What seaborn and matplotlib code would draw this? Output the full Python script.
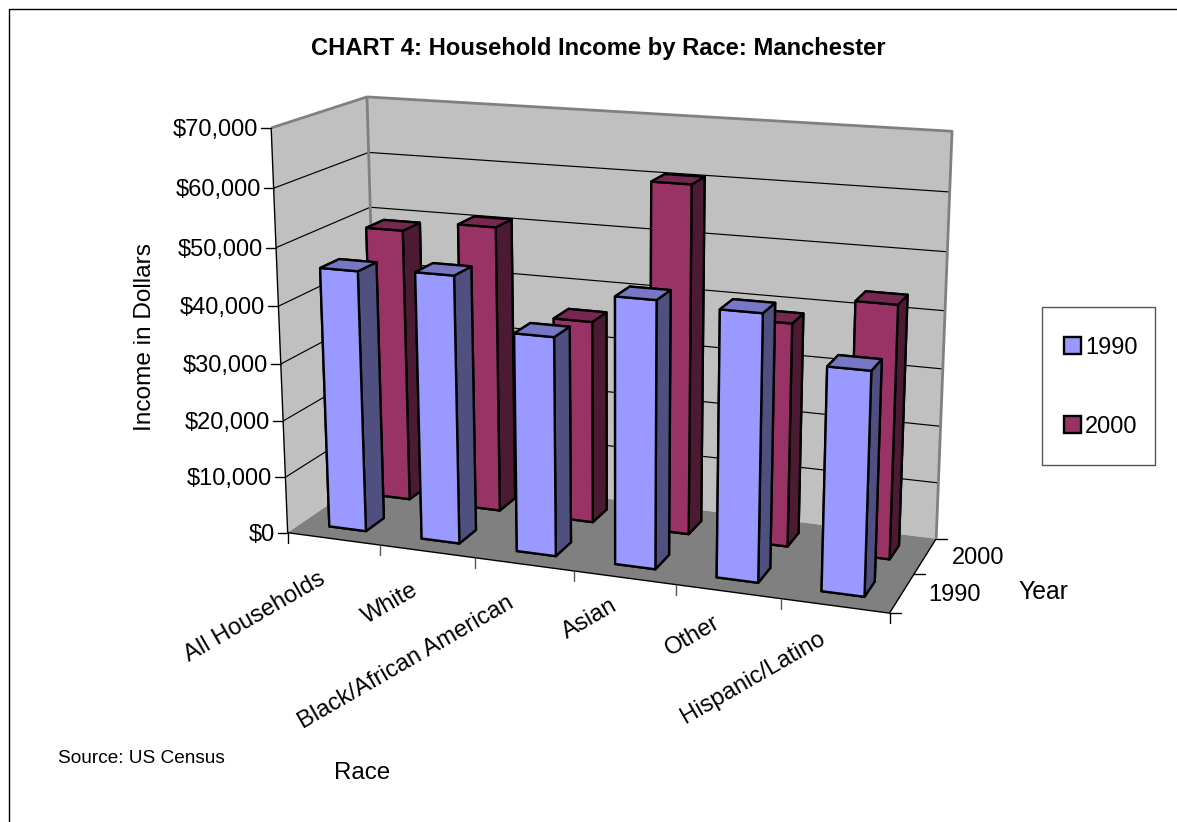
import numpy as np
import pandas as pd
import seaborn as sns
import matplotlib
matplotlib.use("Agg")
import matplotlib.pyplot as plt
from matplotlib.patches import Patch, Rectangle
from matplotlib.lines import Line2D
from mpl_toolkits.mplot3d.art3d import Poly3DCollection, Line3DCollection

W, H = 1177, 822
categories = ["All Households", "White", "Black/African American", "Asian", "Other", "Hispanic/Latino"]
years = ["1990", "2000"]
income_1990 = [45800, 46500, 37700, 45400, 44800, 37200]
income_2000 = [49100, 51000, 35900, 60800, 38800, 43500]
z_ticks = [0, 10000, 20000, 30000, 40000, 50000, 60000, 70000]
df = pd.DataFrame({"Race": categories, "1990": income_1990, "2000": income_2000})

sns.set_theme(style="white")
plt.rcParams["font.family"] = ["Liberation Sans", "DejaVu Sans"]
plt.rcParams["text.color"] = "black"
palette = {"1990": ("#9999FF", "#7777C6", "#4F4F80"), "2000": ("#993366", "#772850", "#4D1A33")}

# camera calibration: chart space (category, depth, income) <-> picture position
calib = [
    (0, 0, 0, 287, 533), (6, 0, 0, 889, 612), (6, 2, 0, 937, 539), (0, 2, 0, 378, 470),
    (0, 0, 70000, 272, 128), (0, 2, 70000, 366, 96), (6, 2, 70000, 953, 131),
    (0, 0, 60000, 273, 188), (0, 0, 50000, 276, 248), (0, 2, 60000, 369, 153), (0, 2, 50000, 371, 208),
    (6, 2, 60000, 950, 192), (6, 2, 50000, 947, 252), (6, 2, 40000, 944, 310), (6, 2, 30000, 942, 369),
    (6, 2, 20000, 940, 427), (1, 0, 0, 380, 545), (2, 0, 0, 476, 558), (6, 1, 0, 915, 575),
]
A = []
for x, y, z, u, v in calib:
    s = z / 10000
    A.append([x, y, s, 1, 0, 0, 0, 0, -u * x, -u * y, -u * s, -u])
    A.append([0, 0, 0, 0, x, y, s, 1, -v * x, -v * y, -v * s, -v])
P = np.linalg.svd(np.array(A, float))[2][-1].reshape(3, 4)
P[:, 2] /= 10000
if P[2] @ np.array([3, 1, 0, 1]) < 0:
    P = -P

def project(x, y, z):
    u, v, w = P @ np.array([x, y, z, 1.0])
    return u / w, v / w

fig = plt.figure(figsize=(W / 100, H / 100), dpi=100, facecolor="white")
ax = fig.add_axes([0, 0, 1, 1], projection="3d", computed_zorder=False)
ax.set_axis_off()
ax.patch.set_alpha(0)
ax.apply_aspect = lambda position=None: None

def fixed_proj():
    (x0, x1), (y0, y1) = ax.viewLim.intervalx, ax.viewLim.intervaly
    sx = (x1 - x0) / W
    sy = (y1 - y0) / H
    wrow = P[2]
    wmid = wrow @ np.array([3, 1, 30000, 1.0])
    r1 = sx * P[0] + x0 * wrow
    r2 = -sy * P[1] + y1 * wrow
    r3 = wrow - np.array([0, 0, 0, 0.5 * wmid])
    return np.array([r1, r2, r3, wrow])
ax.get_proj = fixed_proj

# walls and floor
walls = Poly3DCollection([
    [(0, 0, 0), (0, 2, 0), (0, 2, 70000), (0, 0, 70000)],
    [(0, 2, 0), (6, 2, 0), (6, 2, 70000), (0, 2, 70000)],
], facecolors="#C0C0C0", edgecolors="none")
ax.add_collection3d(walls)
walls.set_zorder(0.5)
floor = Poly3DCollection([[(0, 0, 0), (6, 0, 0), (6, 2, 0), (0, 2, 0)]], facecolors="#808080", edgecolors="none")
ax.add_collection3d(floor)
floor.set_zorder(0.6)

def lines3d(segments, color, lw, z):
    col = Line3DCollection(segments, colors=color, linewidths=lw)
    ax.add_collection3d(col, autolim=False)
    col.set_zorder(z)

grid_segments = []
for t in z_ticks[1:-1]:
    grid_segments.append([(0, 0, t), (0, 2, t), (6, 2, t)])
lines3d(grid_segments, "black", 0.85, 3)
lines3d([[(0, 0, 70000), (0, 0, 0), (6, 0, 0), (6, 2, 0)]], "black", 1.0, 3)
lines3d([[(0, 0, 70000), (0, 2, 70000), (6, 2, 70000), (6, 2, 0)], [(0, 2, 70000), (0, 2, 0)]], "#808080", 2.0, 3.1)

# bars
bw = 0.4
order = [("2000", 1.5, 5), ("1990", 0.5, 10)]
for yr, yc, zbase in order:
    front, top, side = palette[yr]
    for i, val in enumerate(df[yr]):
        ax.bar3d(i + 0.5 - bw / 2, yc - bw / 2, 0, bw, bw, val, shade=False,
                 color=[side, top, front, side, side, side],
                 edgecolor="black", linewidth=1.7, zorder=zbase + i * 0.1)

def put(u, v, s, **kw):
    fig.text(u / W, 1 - v / H, s, **kw)

# tick marks and tick labels
for t in z_ticks:
    u, v = project(0, 0, t)
    fig.add_artist(Line2D([(u - 10) / W, u / W], [1 - v / H, 1 - v / H], color="black", lw=1.0))
    put(u - 13, v + 2, f"${t:,.0f}", ha="right", va="center", fontsize=17)
for i in range(7):
    u, v = project(i, 0, 0)
    fig.add_artist(Line2D([u / W, u / W], [1 - v / H, 1 - (v + 10) / H], color="black" if i in (0, 6) else "#555555", lw=1.0))
for d in (0, 1, 2):
    u, v = project(6, d, 0)
    fig.add_artist(Line2D([u / W, (u + 11) / W], [1 - v / H, 1 - v / H], color="black", lw=1.0))

tick_labels = {
    "All Households": (255, 617), "White": (390, 604), "Black/African American": (406, 663),
    "Asian": (590, 619), "Other": (693, 636), "Hispanic/Latino": (753, 678),
}
for s, (u, v) in tick_labels.items():
    put(u, v, s, rotation=30, ha="center", va="center", fontsize=17.1, rotation_mode="anchor")
put(978, 558, "2000", ha="center", va="center", fontsize=17)
put(955, 595, "1990", ha="center", va="center", fontsize=17)
put(1043, 592, "Year", ha="center", va="center", fontsize=17.8)
put(362, 773, "Race", ha="center", va="center", fontsize=17.4)
put(145, 337, "Income in Dollars", ha="center", va="center", rotation=90, fontsize=17.6)
put(141, 758, "Source: US Census", ha="center", va="center", fontsize=13.7)
put(598, 49, "CHART 4: Household Income by Race: Manchester", ha="center", va="center", fontsize=17.1, fontweight="bold")

# legend
fig.add_artist(Rectangle((1042 / W, 1 - 465 / H), 113 / W, 158 / H, transform=fig.transFigure,
                         facecolor="white", edgecolor="#555555", lw=1.0))
handles = [Patch(facecolor=palette[y][0], edgecolor="black", linewidth=1.7, label=y) for y in years]
fig.legend(handles=handles, loc="center", bbox_to_anchor=(1101 / W, 1 - 387.5 / H), frameon=False,
           fontsize=17, handlelength=0.72, handleheight=0.72, handletextpad=0.15, labelspacing=2.4)

# chart border: only the left and top edges are inside the picture
fig.add_artist(Line2D([8.5 / W, 8.5 / W, 1], [0, 1 - 9 / H, 1 - 9 / H], color="black", lw=1.0))
fig.savefig("out.png", dpi=100)
